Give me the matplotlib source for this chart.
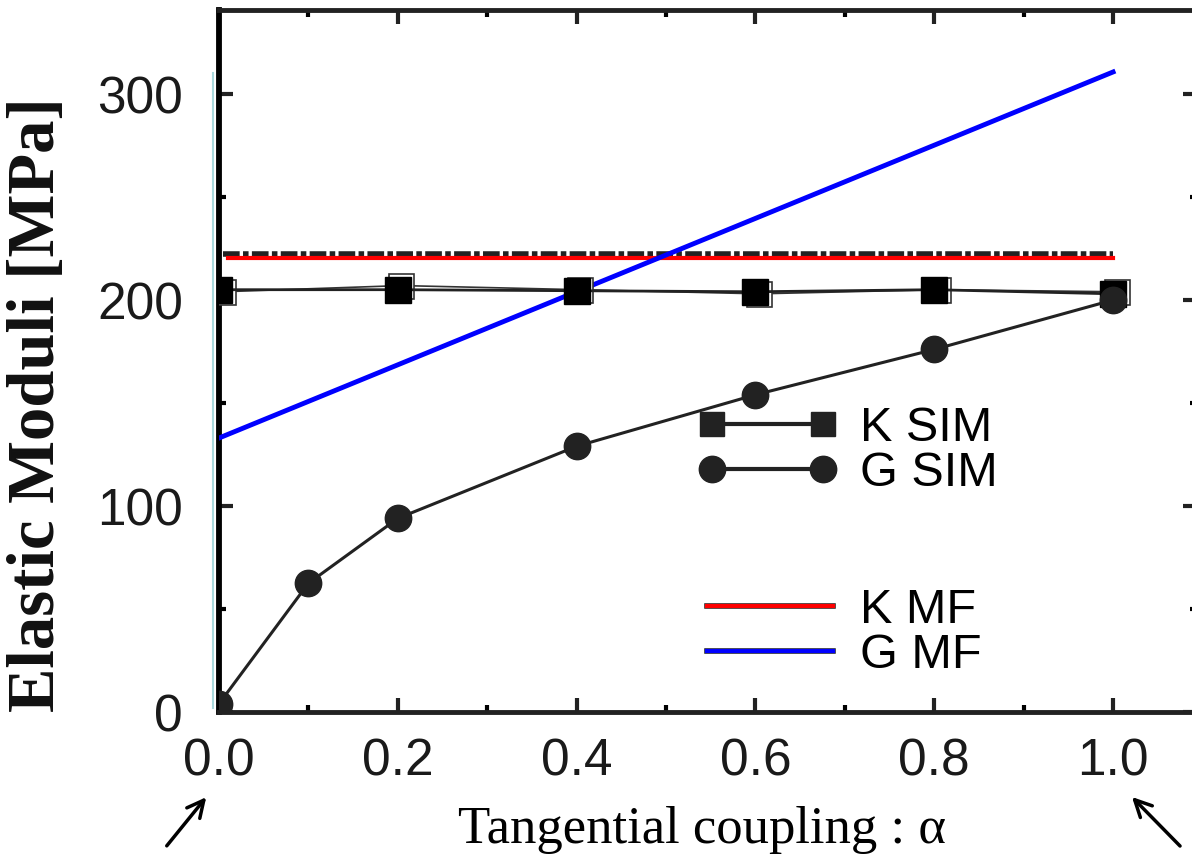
import numpy as np
import matplotlib
matplotlib.use("Agg")
import matplotlib.pyplot as plt
from matplotlib.lines import Line2D

# data
alpha_k = [0.0, 0.2, 0.4, 0.6, 0.8, 1.0]
k_sim = [205, 205, 204.5, 204, 205, 203]
k_sim_open = [204, 207, 205, 203, 205, 204]
alpha_g = [0.0, 0.1, 0.2, 0.4, 0.6, 0.8, 1.0]
g_sim = [4, 62.5, 94, 129, 154, 176, 200]
alpha_mf = [0.01, 1.0]
k_mf = [220.4, 220.4]
k_mf_dash = [222.3, 222.3]
g_mf = [133, 310.7]

xticks = [0.0, 0.2, 0.4, 0.6, 0.8, 1.0]
xticklabels = ["0.0", "0.2", "0.4", "0.6", "0.8", "1.0"]
yticks = [0, 100, 200, 300]

sans = "Liberation Sans"
serif = "Liberation Serif"

fig = plt.figure(figsize=(11.92, 8.55), dpi=100)
ax = fig.add_axes([219/1192, 1 - 712/855, 1 - 219/1192 + 0.004, (712 - 10)/855])

# mean field lines
ax.plot([0.004, 1.0], k_mf_dash, color="#222222", lw=4, ls=(0, (3, 0.6, 1, 0.6)), zorder=2)
ax.plot(alpha_mf, k_mf, color="#ff0000", lw=3, zorder=3)
ax.plot([0.0, 1.0], g_mf, color="#0000ff", lw=3.5, zorder=3)

# simulation points
ax.plot([a + 0.004 for a in alpha_k], k_sim_open, color="#333333", lw=1.2,
        marker="s", ms=18, mfc="white", mec="#333333", mew=1.2, zorder=4)
ax.plot(alpha_k, k_sim, color="#222222", lw=2, marker="s", ms=19,
        mfc="black", mec="black", zorder=5)
ax.plot(alpha_g, g_sim, color="#222222", lw=2.2, marker="o", ms=19,
        mfc="#222222", mec="#222222", zorder=5)

ax.set_xlim(0, (1192 - 219) / 893 + 0.004)
ax.set_ylim(0, (712 - 10) / 2.06)

ax.set_xticks(xticks)
ax.set_xticklabels(xticklabels)
ax.set_yticks(yticks)
ax.set_xticks(np.arange(0.1, 1.1, 0.2), minor=True)
ax.set_yticks([50, 150, 250], minor=True)
ax.tick_params(which="major", direction="in", length=10, width=3, top=True, right=True,
               labelsize=37, colors="#222222", labelcolor="#1a1a1a")
ax.tick_params(which="minor", direction="in", length=5, width=3, top=True, right=True)
ax.tick_params(axis="x", pad=18)
ax.tick_params(axis="y", pad=26)
for lab in ax.get_xticklabels() + ax.get_yticklabels():
    lab.set_fontfamily(sans)

ax.spines["left"].set_linewidth(4.2)
ax.spines["left"].set_color("black")
for s in ["top", "bottom", "right"]:
    ax.spines[s].set_linewidth(3.5)
    ax.spines[s].set_color("#222222")

# faint cyan line next to the y axis
ax.plot([-0.0067, -0.0067], [2, 310], color="#a8d8dc", lw=1.5, clip_on=False, zorder=1)

fig.text(38/1192, 1 - 405/855, "Elastic Moduli [MPa]", rotation=90, fontsize=48,
         fontweight="bold", family=serif, ha="center", va="center", color="#111111")
fig.text(702/1192, 1 - 830/855, "Tangential coupling : \u03b1", fontsize=38,
         family=serif, ha="center", va="center", color="black")

# legends
h1 = Line2D([], [], color="#222222", lw=3, marker="s", ms=17, mfc="#222222", mec="#222222")
h2 = Line2D([], [], color="#222222", lw=3, marker="o", ms=19, mfc="#222222", mec="#222222")
leg1 = ax.legend([h1, h2], ["K SIM", "G SIM"], loc="center left",
                 bbox_to_anchor=(697/1192, 1 - 451/855), bbox_transform=fig.transFigure,
                 frameon=False, numpoints=2, handlelength=2.9, handletextpad=0.45,
                 borderpad=0, borderaxespad=0, labelspacing=0.0,
                 prop={"family": sans, "size": 35})
ax.add_artist(leg1)

h3 = (Line2D([], [], color="#222222", lw=4), Line2D([], [], color="#ff0000", lw=3))
h4 = (Line2D([], [], color="#222222", lw=4), Line2D([], [], color="#0000ff", lw=3))
ax.legend([h3, h4], ["K MF", "G MF"], loc="center left",
          bbox_to_anchor=(707/1192, 1 - 633/855), bbox_transform=fig.transFigure,
          frameon=False, handlelength=2.6, handletextpad=0.55,
          borderpad=0, borderaxespad=0, labelspacing=0.0,
          prop={"family": sans, "size": 35})

# arrows pointing at the axis ends
fig.add_artist(plt.Annotation("", xy=(208/1192, 1 - 795/855), xytext=(165/1192, 1 - 848/855),
                              xycoords="figure fraction",
                              arrowprops=dict(arrowstyle="->", lw=2.5, color="black",
                                              mutation_scale=30)))
fig.add_artist(plt.Annotation("", xy=(1130/1192, 1 - 795/855), xytext=(1182/1192, 1 - 848/855),
                              xycoords="figure fraction",
                              arrowprops=dict(arrowstyle="->", lw=2.5, color="black",
                                              mutation_scale=30)))

fig.savefig("out.png", dpi=100)
